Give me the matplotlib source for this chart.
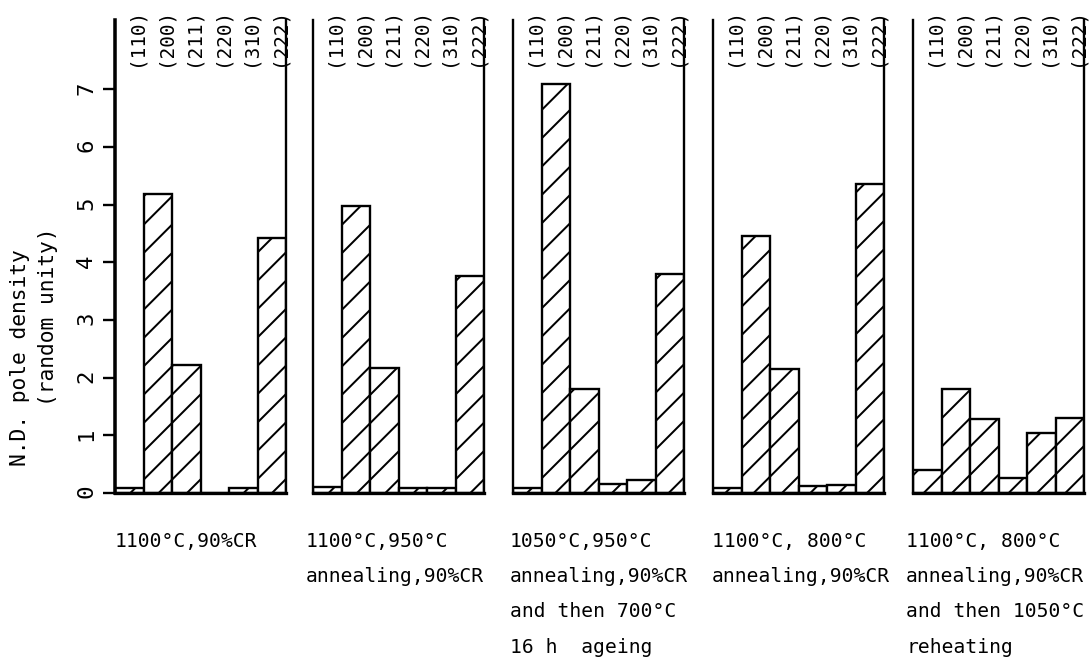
import matplotlib
matplotlib.use('Agg')
import matplotlib.pyplot as plt
from matplotlib.transforms import blended_transform_factory

# pole density values, one list per panel
hkl = ['(110)', '(200)', '(211)', '(220)', '(310)', '(222)']
p1 = [0.08, 5.18, 2.22, 0.0, 0.08, 4.42]
p2 = [0.10, 4.97, 2.17, 0.08, 0.08, 3.76]
p3 = [0.08, 7.09, 1.80, 0.16, 0.22, 3.80]
p4 = [0.08, 4.45, 2.15, 0.13, 0.14, 5.35]
p5 = [0.40, 1.80, 1.28, 0.26, 1.04, 1.30]
panels = [p1, p2, p3, p4, p5]

captions = [
    '1100°C,90%CR',
    '1100°C,950°C\nannealing,90%CR',
    '1050°C,950°C\nannealing,90%CR\nand then 700°C\n16 h  ageing',
    '1100°C, 800°C\nannealing,90%CR',
    '1100°C, 800°C\nannealing,90%CR\nand then 1050°C\nreheating',
]
yticks = [0, 1, 2, 3, 4, 5, 6, 7]

W, H, DPI = 1089, 666, 170
plt.rcParams['font.family'] = ['DejaVu Sans Mono', 'DejaVu Sans']
plt.rcParams['hatch.color'] = 'black'
plt.rcParams['hatch.linewidth'] = 0.85

fig = plt.figure(figsize=(W / DPI, H / DPI), dpi=DPI)

lefts = [115, 313, 513, 713, 913]
cap_x = [115, 306, 510, 712, 906]
pw = 171
bottom_px, top_px = 493, 20

for i, vals in enumerate(panels):
    ax = fig.add_axes([lefts[i] / W, 1 - bottom_px / H, pw / W, (bottom_px - top_px) / H])
    ax.bar(range(len(hkl)), vals, width=1.0, facecolor='white', edgecolor='black',
           linewidth=1.0, hatch='//')
    ax.set_xlim(-0.5, 5.5)
    ax.set_ylim(0, 8.2)
    ax.spines['top'].set_visible(False)
    ax.spines['bottom'].set_linewidth(1.4)
    ax.spines['right'].set_linewidth(1.0)
    ax.spines['left'].set_linewidth(1.5 if i == 0 else 1.0)
    ax.set_xticks([])
    if i == 0:
        ax.set_yticks(yticks)
        ax.tick_params(axis='y', direction='out', length=5, width=1.0, pad=3,
                       labelsize=9.5, labelrotation=90)
    else:
        ax.set_yticks([])

    tr = blended_transform_factory(ax.transData, fig.transFigure)
    for j, lab in enumerate(hkl):
        ax.text(j + 0.25, 1 - 8 / H, lab, transform=tr, rotation=90,
                ha='center', va='top', fontsize=8.2)

    fig.text(cap_x[i] / W, 1 - 532 / H, captions[i], ha='left', va='top',
             fontsize=8.3, linespacing=2.08)

fig.text(20 / W, 1 - 358 / H, 'N.D. pole density', rotation=90,
         ha='center', va='center', fontsize=9)
fig.text(48 / W, 1 - 317 / H, '(random unity)', rotation=90,
         ha='center', va='center', fontsize=9)

fig.savefig('out.png', dpi=DPI, facecolor='white')
